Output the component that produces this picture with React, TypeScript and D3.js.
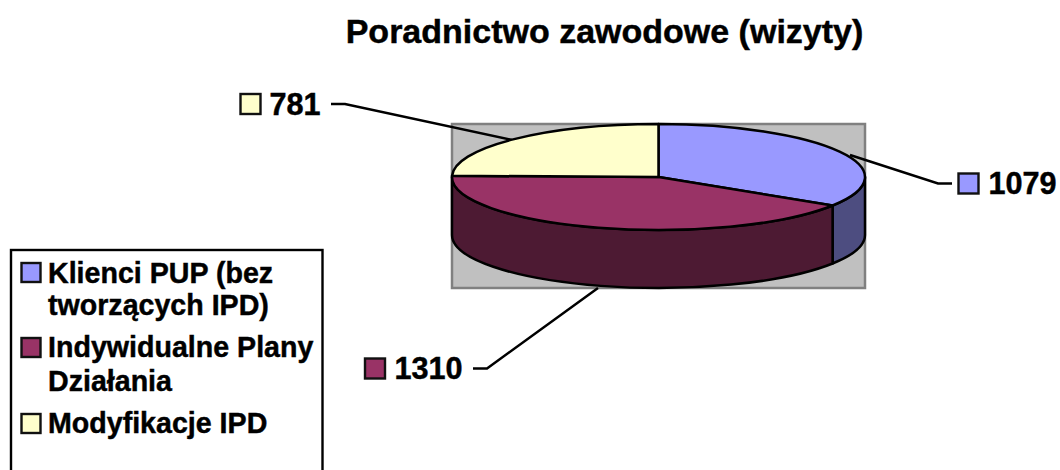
import React from "react";
import * as d3 from "d3";

const categories = ["Klienci PUP (bez tworzących IPD)", "Indywidualne Plany Działania", "Modyfikacje IPD"];
const values = [1079, 1310, 781];
const legendLines = [["Klienci PUP (bez", "tworzących IPD)"], ["Indywidualne Plany", "Działania"], ["Modyfikacje IPD"]];
const topColors = ["#9999ff", "#993366", "#ffffcc"];
const sideColors = ["#4d4d80", "#4d1a33", "#808066"];
const title = "Poradnictwo zawodowe (wizyty)";

const width = 1060;
const height = 470;
const cx = 658.5;
const cy = 177;
const rx = 206.5;
const ry = 53;
const depth = 58;
const font = "'Liberation Sans', Arial, sans-serif";

const slices = d3.pie<number>().sort(null)(values);

const ex = (a: number) => cx + rx * Math.sin(a);
const ey = (a: number) => cy - ry * Math.cos(a);

// top face of a slice, flattened pie
function topPath(a0: number, a1: number) {
  const large = a1 - a0 > Math.PI ? 1 : 0;
  return `M${cx},${cy}L${ex(a0)},${ey(a0)}A${rx},${ry} 0 ${large} 1 ${ex(a1)},${ey(a1)}Z`;
}

// front wall, only the part between 90 and 270 degrees can be seen
function sidePath(a0: number, a1: number) {
  const from = Math.max(a0, Math.PI / 2);
  const to = Math.min(a1, (3 * Math.PI) / 2);
  if (to <= from) return null;
  return `M${ex(from)},${ey(from)}A${rx},${ry} 0 0 1 ${ex(to)},${ey(to)}L${ex(to)},${ey(to) + depth}A${rx},${ry} 0 0 0 ${ex(from)},${ey(from) + depth}Z`;
}

const dataLabels = [
  { keyX: 958.5, keyY: 173.5, textX: 988.5, base: 194 },
  { keyX: 365, keyY: 358.5, textX: 394.5, base: 379 },
  { keyX: 240.5, keyY: 94, textX: 269.5, base: 115 },
];
const leaders = [
  [[952, 183.5], [938, 183.5], [850, 155]],
  [[473, 368.5], [487, 368.5], [598, 288]],
  [[331, 104], [345, 104], [512, 140]],
];
const legendKeys = [263, 338, 414];
const legendBases = [[283, 315], [357, 391], [433]];

const leaderLine = d3.line();
const textWeight = { stroke: "#000", strokeWidth: 0.45 };

export default function App() {
  return (
    <svg
      width={width}
      height={height}
      viewBox={`0 0 ${width} ${height}`}
      style={{ position: "absolute", left: 0, top: 0, background: "#fff", display: "block" }}
      aria-label={categories.join(", ")}
    >
      <text x={604.5} y={43} textAnchor="middle" fontFamily={font} fontWeight="bold" fontSize={34} {...textWeight}>
        {title}
      </text>

      <rect x={452} y={124} width={413} height={164} fill="#c0c0c0" stroke="#808080" strokeWidth={2.5} />

      {leaders.map((pts, i) => (
        <path key={i} d={leaderLine(pts as [number, number][]) ?? ""} fill="none" stroke="#000" strokeWidth={2.5} />
      ))}

      {slices.map((s, i) => {
        const d = sidePath(s.startAngle, s.endAngle);
        return d ? <path key={i} d={d} fill={sideColors[i]} stroke="#000" strokeWidth={2.5} strokeLinejoin="round" /> : null;
      })}
      {slices.map((s, i) => (
        <path key={i} d={topPath(s.startAngle, s.endAngle)} fill={topColors[i]} stroke="#000" strokeWidth={2.5} strokeLinejoin="round" />
      ))}

      {dataLabels.map((l, i) => (
        <g key={i}>
          <rect x={l.keyX} y={l.keyY} width={20} height={20} fill={topColors[i]} stroke="#111" strokeWidth={2.4} />
          <text x={l.textX} y={l.base} fontFamily={font} fontWeight="bold" fontSize={30.6} {...textWeight}>
            {values[i]}
          </text>
        </g>
      ))}

      <rect x={11} y={250} width={311.5} height={240} fill="#fff" stroke="#000" strokeWidth={2.4} />
      {legendLines.map((lines, i) => (
        <g key={i}>
          <rect x={21.5} y={legendKeys[i]} width={19} height={19} fill={topColors[i]} stroke="#111" strokeWidth={2.4} />
          {lines.map((t, j) => (
            <text key={j} x={48} y={legendBases[i][j]} fontFamily={font} fontWeight="bold" fontSize={28.6} {...textWeight}>
              {t}
            </text>
          ))}
        </g>
      ))}
    </svg>
  );
}
